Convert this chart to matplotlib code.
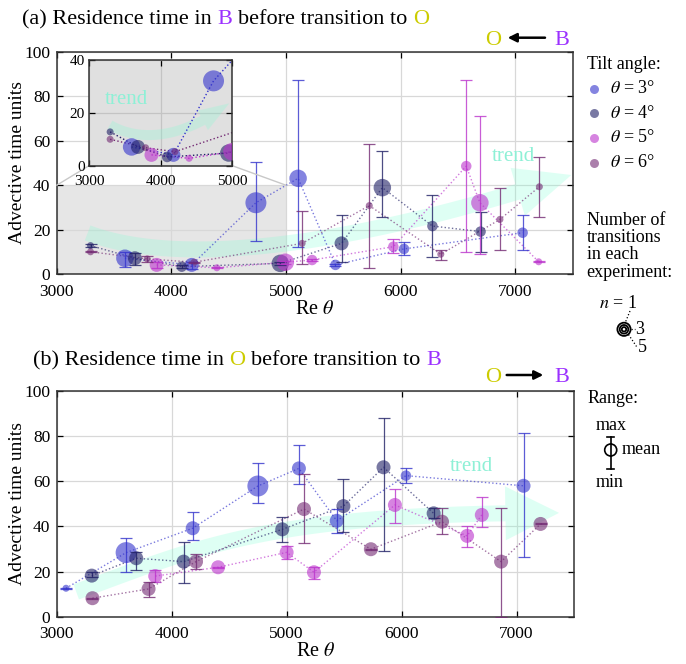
import matplotlib.pyplot as plt
import numpy as np
from matplotlib.patches import Polygon, Circle, Rectangle, ConnectionPatch

plt.rcParams['font.family'] = ['Liberation Serif', 'DejaVu Serif']
plt.rcParams['mathtext.fontset'] = 'stix'

# ---- (a) residence time in B before transition to O ----
# Re_theta, mean, min, max, number of transitions
a3_re   = [3595, 4178, 4738, 5106, 5432, 6030, 7065]
a3_mean = [7.1, 4.1, 32.1, 43.1, 4.1, 11.3, 18.6]
a3_lo   = [3.0, 2.1, 14.9, 12.3, 3.6, 8.6, 10.8]
a3_hi   = [9.8, 5.5, 50.6, 87.4, 4.6, 14.4, 26.6]
a3_n    = [5, 4, 6, 5, 3, 3, 3]

a4_re   = [3295, 3682, 4091, 4951, 5485, 5841, 6278, 6698]
a4_mean = [12.8, 7.1, 3.3, 4.8, 13.8, 38.9, 21.6, 19.1]
a4_lo   = [12.3, 4.1, 2.6, 4.0, 5.5, 25.8, 7.5, 10.0]
a4_hi   = [13.3, 9.3, 4.0, 5.6, 26.6, 55.4, 35.6, 28.1]
a4_n    = [2, 4, 3, 5, 4, 5, 3, 3]

a5_re   = [3872, 4397, 4995, 5228, 5937, 6573, 6692, 7205]
a5_mean = [4.1, 2.8, 5.3, 6.3, 12.3, 48.6, 32.1, 5.5]
a5_lo   = [2.5, 2.6, 4.5, 5.8, 9.3, 10.0, 9.0, 5.3]
a5_hi   = [5.3, 3.0, 6.0, 6.8, 15.6, 87.4, 71.3, 5.7]
a5_n    = [4, 2, 5, 3, 3, 3, 5, 2]

a6_re   = [3295, 3790, 4199, 5141, 5727, 6351, 6867, 7211]
a6_mean = [10.0, 6.8, 5.3, 13.8, 30.8, 8.9, 24.6, 39.3]
a6_lo   = [9.8, 5.3, 5.0, 4.4, 2.8, 6.3, 10.8, 25.8]
a6_hi   = [10.2, 8.1, 5.6, 28.5, 58.4, 10.8, 38.6, 52.8]
a6_n    = [2, 2, 2, 2, 2, 2, 2, 2]

# ---- (b) residence time in O before transition to B ----
b3_re   = [3081, 3604, 4183, 4750, 5107, 5436, 6038, 7061]
b3_mean = [12.6, 28.4, 39.2, 57.9, 65.7, 42.5, 62.5, 58.0]
b3_lo   = [12.4, 19.7, 34.0, 50.2, 58.8, 37.2, 59.1, 26.3]
b3_hi   = [12.8, 34.7, 46.5, 68.0, 76.1, 47.6, 66.0, 81.3]
b3_n    = [2, 6, 4, 6, 4, 4, 3, 4]

b4_re   = [3305, 3692, 4104, 4962, 5494, 5843, 6279]
b4_mean = [18.2, 25.9, 24.4, 38.7, 49.0, 66.2, 45.8]
b4_lo   = [17.6, 20.7, 15.1, 33.0, 37.7, 29.1, 43.9]
b4_hi   = [19.6, 28.5, 33.2, 44.3, 60.9, 88.2, 48.0]
b4_n    = [4, 4, 4, 4, 4, 4, 4]

b5_re   = [3857, 4404, 5000, 5238, 5942, 6570, 6698]
b5_mean = [18.0, 21.9, 28.5, 19.7, 49.5, 35.8, 45.1]
b5_lo   = [15.5, 21.7, 25.6, 16.6, 41.6, 31.0, 39.9]
b5_hi   = [20.7, 22.1, 31.3, 22.2, 56.6, 40.3, 52.9]
b5_n    = [4, 4, 4, 4, 4, 4, 4]

b6_re   = [3311, 3799, 4212, 5151, 5733, 6352, 6866, 7209]
b6_mean = [8.2, 12.3, 24.4, 47.7, 29.9, 42.1, 24.4, 41.1]
b6_lo   = [8.0, 8.9, 21.1, 32.8, 29.7, 36.6, 0.0, 40.9]
b6_hi   = [8.4, 15.5, 27.8, 63.1, 30.1, 48.0, 48.0, 41.3]
b6_n    = [4, 4, 4, 4, 4, 4, 4, 4]

angles = [3, 4, 5, 6]
cols = ['#3333cc', '#202066', '#bb33cc', '#732a73']
c_B = '#9b30ff'
c_O = '#cccc00'
c_trend = '#7fffd4'

W, H = 686, 664
fig = plt.figure(figsize=(W/100, H/100), dpi=100)


def pix_axes(x0, y0, x1, y1):
    # axes from pixel box (top-left origin)
    return fig.add_axes([x0/W, 1-y1/H, (x1-x0)/W, (y1-y0)/H])


ax_a = pix_axes(56.7, 52, 572.5, 274)
ax_b = pix_axes(56.7, 391, 574, 616.7)
ins = pix_axes(89, 60, 232.3, 165.7)


def style(ax, xlim, ylim, xt, yt, fs, gcol):
    ax.set_xlim(xlim)
    ax.set_ylim(ylim)
    ax.set_xticks(xt)
    ax.set_yticks(yt)
    ax.tick_params(direction='in', top=True, right=True, length=4, width=0.9,
                   labelsize=fs)
    ax.tick_params(axis='x', pad=7)
    ax.tick_params(axis='y', pad=4.5)
    ax.grid(True, color=gcol, lw=0.9)
    ax.set_axisbelow(True)
    for sp in ax.spines.values():
        sp.set_color('#333333')
        sp.set_linewidth(1.1)


style(ax_a, (3000, 7500), (0, 100), range(3000, 7001, 1000), range(0, 101, 20), 12.5, '#d8d8d8')
style(ax_b, (3000, 7500), (0, 100), range(3000, 7001, 1000), range(0, 101, 20), 12.5, '#d8d8d8')
style(ins, (3000, 5000), (0, 40), [3000, 4000, 5000], [0, 20, 40], 11, '#c4c4c4')
ins.tick_params(axis='x', pad=6.5)
ins.tick_params(axis='y', pad=3)
ins.set_facecolor('#e0e0e0')
ins.set_zorder(5)

for ax in (ax_a, ax_b):
    ax.set_ylabel('Advective time units', fontsize=14)
    ax.yaxis.set_label_coords(-0.06, 0.5)
    ax.set_xlabel(r'Re $\theta$', fontsize=14.5, labelpad=0)

ax_a.add_patch(Rectangle((3000, 0), 2000, 40, fc='#e6e6e6', ec='none', zorder=0.1))
for xa, xb in [((3000, 40), (0, 0)), ((5000, 40), (1, 0))]:
    fig.add_artist(ConnectionPatch(xyA=xa, coordsA=ax_a.transData, xyB=xb,
                                   coordsB=ins.transAxes, color='#c8c8c8', lw=1))


def marker_size(n):
    d_px = [3.5 * k for k in n]
    return [(d * 0.72) ** 2 for d in d_px]


def draw_series(ax, re, mean, lo, hi, n, col, bars=True, lalpha=0.65):
    re = np.asarray(re)
    mean = np.asarray(mean)
    o = np.argsort(re)
    ax.plot(re[o], mean[o], ls=':', lw=1.0, color=col, alpha=lalpha, zorder=2)
    ax.scatter(re, mean, s=marker_size(n), color=col, alpha=0.6, lw=0, zorder=3)
    if bars:
        yerr = [mean - np.asarray(lo), np.asarray(hi) - mean]
        ax.errorbar(re, mean, yerr=yerr, fmt='none', ecolor=col, elinewidth=0.9,
                    capsize=4, capthick=0.9, alpha=0.8, zorder=4)


def trend_arrow(ax, P, half_w, head_w, head_len, zorder=1):
    # smooth cubic Bezier centreline, widths in pixels
    P = np.asarray(P, float)
    t = np.linspace(0, 1, 300)[:, None]
    c = (1-t)**3*P[0] + 3*t*(1-t)**2*P[1] + 3*t**2*(1-t)*P[2] + t**3*P[3]
    pts = ax.transData.transform(c)
    d = np.gradient(pts, axis=0)
    d /= np.linalg.norm(d, axis=1)[:, None]
    nrm = np.column_stack([-d[:, 1], d[:, 0]])
    L = np.concatenate([[0], np.cumsum(np.linalg.norm(np.diff(pts, axis=0), axis=1))])
    body = L <= L[-1] - head_len
    ib = np.where(body)[0][-1]
    up = pts[body] + nrm[body] * half_w
    lo = pts[body] - nrm[body] * half_w
    head = [pts[ib] + nrm[ib] * head_w, pts[-1], pts[ib] - nrm[ib] * head_w]
    poly = np.vstack([up, head, lo[::-1]])
    poly = ax.transData.inverted().transform(poly)
    ax.add_patch(Polygon(poly, closed=True, fc=c_trend, ec='none', alpha=0.25,
                         zorder=zorder))


a_sets = [(a3_re, a3_mean, a3_lo, a3_hi, a3_n), (a4_re, a4_mean, a4_lo, a4_hi, a4_n),
          (a5_re, a5_mean, a5_lo, a5_hi, a5_n), (a6_re, a6_mean, a6_lo, a6_hi, a6_n)]
b_sets = [(b3_re, b3_mean, b3_lo, b3_hi, b3_n), (b4_re, b4_mean, b4_lo, b4_hi, b4_n),
          (b5_re, b5_mean, b5_lo, b5_hi, b5_n), (b6_re, b6_mean, b6_lo, b6_hi, b6_n)]

trend_arrow(ax_a, [(3270, 18.5), (3900, 6), (5200, 6), (7490, 44.6)], 8, 25, 54)
trend_arrow(ax_b, [(3170, 11), (4200, 30), (4800, 46), (7370, 46)], 8, 27, 53)
trend_arrow(ins, [(3292, 15.4), (3700, 9), (4300, 10), (4958, 23.6)], 5, 11, 31)

for s, col in zip(a_sets, cols):
    draw_series(ax_a, *s, col)
    draw_series(ins, *s, col, bars=False, lalpha=1.0)
for s, col in zip(b_sets, cols):
    draw_series(ax_b, *s, col)

tkw = dict(color='#8ef0d6', fontsize=15, ha='center', va='center', zorder=1)
ax_a.text(6985, 53, 'trend', **tkw)
ax_b.text(6610, 66.5, 'trend', **tkw)
ins.text(3524, 25, 'trend', **tkw)

# ---- overlay in pixel coordinates for titles and legends ----
lax = fig.add_axes([0, 0, 1, 1], zorder=10)
lax.set_xlim(0, W)
lax.set_ylim(H, 0)
lax.axis('off')
lax.patch.set_alpha(0)

rend = fig.canvas.get_renderer()


def color_title(x, y, parts, fs):
    sp = lax.text(0, 0, 'a a', fontsize=fs).get_window_extent(rend).width
    t2 = lax.text(0, 0, 'aa', fontsize=fs)
    sp -= t2.get_window_extent(rend).width
    for tt in lax.texts[-2:]:
        tt.remove()
    for i, (s, c) in enumerate(parts):
        t = lax.text(x, y, s, color=c, fontsize=fs, va='baseline', ha='left')
        x = t.get_window_extent(rend).x1 + sp


color_title(22, 24, [('(a) Residence time in', 'k'), ('B', c_B),
                     ('before transition to', 'k'), ('O', c_O)], 16)
color_title(33, 365, [('(b) Residence time in', 'k'), ('O', c_O),
                      ('before transition to', 'k'), ('B', c_B)], 16)

for yb, yarr, direction in [(45, 37.7, -1), (381.7, 375, 1)]:
    lax.text(485, yb, 'O', color=c_O, fontsize=16, va='baseline')
    lax.text(554, yb, 'B', color=c_B, fontsize=16, va='baseline')
    x0, x1 = (545, 507.7) if direction < 0 else (506.7, 543.3)
    lax.annotate('', xy=(x1, yarr), xytext=(x0, yarr),
                 arrowprops=dict(arrowstyle='-|>', color='k', lw=1.8,
                                 mutation_scale=13, shrinkA=0, shrinkB=0))

fs_leg = 13
lax.text(586.7, 69.3, 'Tilt angle:', fontsize=fs_leg, va='baseline')
for i, (ang, col) in enumerate(zip(angles, cols)):
    yy = 88.7 + 24.6 * i
    lax.scatter([594], [yy], s=(9 * 0.72) ** 2, color=col, alpha=0.6, lw=0)
    lax.text(610, yy + 4.6, r'$\theta$ = %d°' % ang, fontsize=fs_leg, va='baseline')

for i, line in enumerate(['Number of', 'transitions', 'in each', 'experiment:']):
    lax.text(586.7, 225 + 17.2 * i, line, fontsize=fs_leg, va='baseline')

lax.text(599.3, 308.3, r'$n$ = 1', fontsize=fs_leg, va='baseline')
lax.text(635, 334.3, '3', fontsize=fs_leg, va='baseline')
lax.text(638, 351.7, '5', fontsize=fs_leg, va='baseline')
for r in (2.2, 4.3, 6.6):
    lax.add_patch(Circle((624, 329.3), r, fill=False, ec='k', lw=1.3))
lax.plot([630, 625.5], [311, 322], ls=':', color='k', lw=0.9)
lax.plot([631, 635], [329.3, 329.3], ls=':', color='k', lw=0.9)
lax.plot([628.5, 636.5], [334.5, 346.5], ls=':', color='k', lw=0.9)

lax.text(587.7, 403.3, 'Range:', fontsize=fs_leg, va='baseline')
lax.text(596, 430, 'max', fontsize=fs_leg, va='baseline')
lax.text(621.7, 454, 'mean', fontsize=fs_leg, va='baseline')
lax.text(596, 486.7, 'min', fontsize=fs_leg, va='baseline')
lax.plot([610.7, 610.7], [437.3, 468.7], color='k', lw=1.2)
lax.plot([607, 614.4], [437.3, 437.3], color='k', lw=1.2)
lax.plot([607, 614.4], [468.7, 468.7], color='k', lw=1.2)
lax.add_patch(Circle((610.7, 450), 6, fc='white', ec='k', lw=1.2, zorder=3))
lax.plot([610.7, 610.7], [444, 456], color='k', lw=1.2, zorder=4)

fig.savefig('out.png', dpi=100)
